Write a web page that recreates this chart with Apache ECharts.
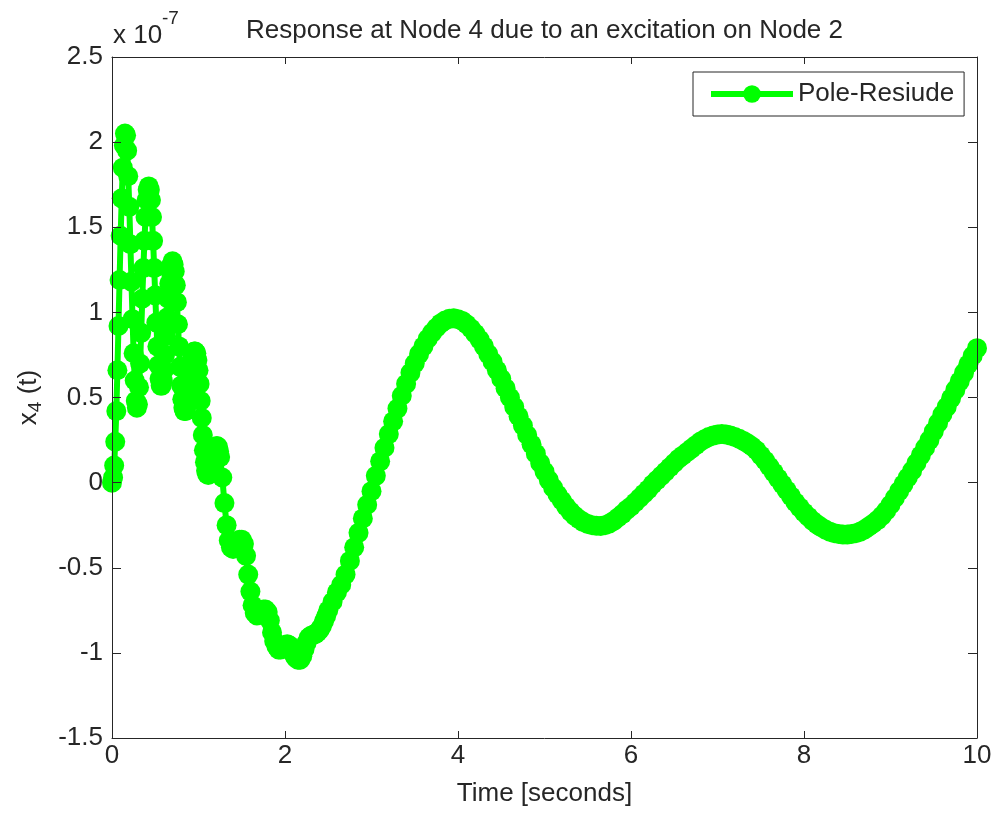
<!DOCTYPE html>
<html>
<head>
<meta charset="utf-8">
<script src="https://cdn.jsdelivr.net/npm/echarts@6/dist/echarts.min.js"></script>
<style>
html,body{margin:0;padding:0;background:#fff;}
#c{width:996px;height:813px;}
</style>
</head>
<body>
<div id="c"></div>
<script>
// ---- data (time in seconds, response in units of 1e-7) ----
const tA = [0,0.0125,0.025,0.0375,0.05,0.0625,0.075,0.0875,0.1,0.1125,0.125,0.1375,0.15,0.1625,0.175,0.1875,0.2,0.2125,0.225,0.2375,0.25,0.2625,0.275,0.2875,0.3,0.3125,0.325,0.3375,0.35,0.3625,0.375,0.3875,0.4,0.4125,0.425,0.4375,0.45,0.4625,0.475,0.4875,0.5,0.5125,0.525,0.5375,0.55,0.5625,0.575,0.5875,0.6,0.6125,0.625,0.6375,0.65,0.6625,0.675,0.6875,0.7,0.7125,0.725,0.7375,0.75,0.7625,0.775,0.7875,0.8,0.8125,0.825,0.8375,0.85,0.8625,0.875,0.8875,0.9,0.9125,0.925,0.9375,0.95,0.9625,0.975,0.9875,1,1.0125,1.025,1.0375,1.05,1.0625,1.075,1.0875,1.1,1.1125,1.125,1.1375,1.15,1.1625,1.175,1.1875,1.2,1.2125,1.225,1.2375,1.25];
const xA = [0.00,0.03,0.10,0.24,0.42,0.66,0.92,1.19,1.45,1.67,1.85,1.98,2.05,2.04,1.95,1.80,1.62,1.40,1.18,0.96,0.76,0.60,0.48,0.44,0.46,0.56,0.70,0.88,1.08,1.26,1.42,1.56,1.66,1.72,1.74,1.72,1.66,1.56,1.42,1.26,1.10,0.94,0.80,0.69,0.61,0.57,0.57,0.60,0.66,0.75,0.86,0.97,1.08,1.17,1.24,1.28,1.30,1.28,1.24,1.16,1.06,0.93,0.80,0.68,0.57,0.49,0.44,0.42,0.42,0.45,0.49,0.55,0.62,0.68,0.73,0.76,0.77,0.77,0.76,0.72,0.66,0.58,0.48,0.38,0.28,0.19,0.12,0.07,0.05,0.045,0.05,0.08,0.11,0.15,0.18,0.20,0.21,0.215,0.21,0.185,0.15];

const tB = [1.275,1.3,1.325,1.35,1.375,1.4,1.425,1.45,1.475,1.5,1.525,1.55,1.575,1.6,1.625,1.65,1.675,1.7,1.725,1.75,1.775,1.8,1.825,1.85,1.875,1.9,1.925,1.95,1.975,2,2.025,2.05,2.075,2.1,2.125,2.15,2.175,2.2,2.225,2.25,2.275,2.3,2.325,2.35,2.375,2.4,2.425,2.45,2.475,2.5];
const xB = [0.03,-0.12,-0.25,-0.34,-0.38,-0.39,-0.375,-0.35,-0.335,-0.335,-0.36,-0.43,-0.54,-0.64,-0.72,-0.765,-0.78,-0.775,-0.76,-0.745,-0.745,-0.76,-0.81,-0.88,-0.93,-0.96,-0.98,-0.98,-0.97,-0.955,-0.95,-0.955,-0.98,-1.01,-1.03,-1.04,-1.04,-1.02,-0.98,-0.94,-0.91,-0.90,-0.895,-0.89,-0.88,-0.865,-0.845,-0.815,-0.785,-0.75];

const tC = [2.55,2.6,2.65,2.7,2.75,2.8,2.85,2.9,2.95,3,
3.05,3.1,3.15,3.2,3.25,3.3,3.35,3.4,3.45,3.5,
3.55,3.6,3.65,3.7,3.75,3.8,3.85,3.9,3.95,4,
4.05,4.1,4.15,4.2,4.25,4.3,4.35,4.4,4.45,4.5,
4.55,4.6,4.65,4.7,4.75,4.8,4.85,4.9,4.95,5,
5.05,5.1,5.15,5.2,5.25,5.3,5.35,5.4,5.45,5.5,
5.55,5.6,5.65,5.7,5.75,5.8,5.85,5.9,5.95,6,
6.05,6.1,6.15,6.2,6.25,6.3,6.35,6.4,6.45,6.5,
6.55,6.6,6.65,6.7,6.75,6.8,6.85,6.9,6.95,7,
7.05,7.1,7.15,7.2,7.25,7.3,7.35,7.4,7.45,7.5,
7.55,7.6,7.65,7.7,7.75,7.8,7.85,7.9,7.95,8,
8.05,8.1,8.15,8.2,8.25,8.3,8.35,8.4,8.45,8.5,
8.55,8.6,8.65,8.7,8.75,8.8,8.85,8.9,8.95,9,
9.05,9.1,9.15,9.2,9.25,9.3,9.35,9.4,9.45,9.5,
9.55,9.6,9.65,9.7,9.75,9.8,9.85,9.9,9.95,10];
const xC = [-0.70,-0.645,-0.60,-0.54,-0.46,-0.38,-0.295,-0.21,-0.13,-0.05,
0.04,0.125,0.205,0.285,0.36,0.435,0.51,0.58,0.645,0.70,
0.755,0.80,0.845,0.88,0.91,0.935,0.952,0.962,0.965,0.96,
0.95,0.93,0.905,0.875,0.84,0.80,0.755,0.71,0.66,0.61,
0.555,0.50,0.445,0.39,0.335,0.28,0.225,0.17,0.115,0.065,
0.015,-0.03,-0.07,-0.105,-0.14,-0.17,-0.195,-0.215,-0.232,-0.243,
-0.25,-0.254,-0.255,-0.25,-0.24,-0.225,-0.205,-0.185,-0.16,-0.14,
-0.115,-0.09,-0.065,-0.04,-0.01,0.015,0.04,0.065,0.09,0.115,
0.14,0.16,0.18,0.20,0.22,0.24,0.255,0.268,0.277,0.283,
0.285,0.283,0.277,0.268,0.258,0.245,0.23,0.212,0.19,0.16,
0.13,0.095,0.06,0.025,-0.01,-0.045,-0.08,-0.115,-0.145,-0.175,
-0.20,-0.225,-0.245,-0.262,-0.277,-0.288,-0.297,-0.302,-0.305,-0.305,
-0.302,-0.297,-0.288,-0.275,-0.258,-0.24,-0.22,-0.195,-0.165,-0.13,
-0.09,-0.05,-0.01,0.03,0.07,0.115,0.16,0.205,0.25,0.30,
0.35,0.40,0.445,0.495,0.545,0.595,0.645,0.695,0.745,0.79];

const seriesName = 'Pole-Resiude';
const titleText = 'Response at Node 4 due to an excitation on Node 2';
const xTicks = [0, 2, 4, 6, 8, 10];
const yTicks = [-1.5, -1, -0.5, 0, 0.5, 1, 1.5, 2, 2.5];

// ---- build ----
const times = tA.concat(tB, tC);
const x4 = xA.concat(xB, xC);
const data = times.map((t, i) => [t, x4[i]]);

const FONT = '"Liberation Sans", Arial, Helvetica, sans-serif';
const FS = 26;
const TXT = '#262626';
const AX = '#262626';
const GREEN = '#00ff00';

const chart = echarts.init(document.getElementById('c'), null, {renderer: 'canvas'});

function xAx(pos, show) {
  return {
    type: 'value', position: pos, min: xTicks[0], max: xTicks[xTicks.length - 1], interval: 2, z: 10,
    axisLine: {show: true, onZero: false, lineStyle: {color: AX, width: 1}},
    axisTick: {show: true, inside: true, length: 7, lineStyle: {color: AX, width: 1}},
    axisLabel: {show: show, color: TXT, fontSize: FS, fontFamily: FONT, margin: 5},
    splitLine: {show: false}
  };
}
function yAx(pos, show) {
  return {
    type: 'value', position: pos, min: yTicks[0], max: yTicks[yTicks.length - 1], interval: 0.5, z: 10,
    axisLine: {show: true, onZero: false, lineStyle: {color: AX, width: 1}},
    axisTick: {show: true, inside: true, length: 9, lineStyle: {color: AX, width: 1}},
    axisLabel: {show: show, color: TXT, fontSize: FS, fontFamily: FONT, margin: 9},
    splitLine: {show: false}
  };
}

const xb = xAx('bottom', true);
xb.name = 'Time [seconds]';
xb.nameLocation = 'middle';
xb.nameGap = 43;
xb.nameTextStyle = {color: TXT, fontSize: FS, fontFamily: FONT};

const yl = yAx('left', true);
yl.name = '{v|x}{s|4}{v| (t)}';
yl.nameLocation = 'middle';
yl.nameGap = 67;
yl.nameTextStyle = {
  color: TXT, fontSize: FS, fontFamily: FONT,
  rich: {
    v: {color: TXT, fontSize: FS, fontFamily: FONT},
    s: {color: TXT, fontSize: 19, fontFamily: FONT, verticalAlign: 'bottom', padding: [14, 0, 0, 0]}
  }
};

const option = {
  animation: false,
  backgroundColor: '#ffffff',
  grid: {left: 112, right: 19, top: 57, bottom: 75, containLabel: false},
  xAxis: [xb, xAx('top', false)],
  yAxis: [yl, yAx('right', false)],
  legend: {
    data: [seriesName],
    left: 693, top: 72,
    orient: 'horizontal',
    itemWidth: 82, itemHeight: 22,
    padding: [9, 10, 9, 15],
    borderColor: AX, borderWidth: 1,
    backgroundColor: '#ffffff',
    lineStyle: {width: 6, color: GREEN},
    textStyle: {color: TXT, fontSize: FS, fontFamily: FONT},
    z: 20
  },
  graphic: [
    {type: 'text', z: 20, style: {x: 544.5, y: 31, text: titleText, font: FS + 'px ' + FONT, fill: TXT,
      align: 'center', verticalAlign: 'middle', textAlign: 'center', textVerticalAlign: 'middle'}},
    {type: 'text', z: 20, style: {x: 113, y: 36, text: 'x 10', font: FS + 'px ' + FONT, fill: TXT,
      align: 'left', verticalAlign: 'middle', textAlign: 'left', textVerticalAlign: 'middle'}},
    {type: 'text', z: 20, style: {x: 162, y: 19, text: '-7', font: '19px ' + FONT, fill: TXT,
      align: 'left', verticalAlign: 'middle', textAlign: 'left', textVerticalAlign: 'middle'}}
  ],
  series: [{
    name: seriesName,
    type: 'line',
    xAxisIndex: 0, yAxisIndex: 0,
    data: data,
    symbol: 'circle',
    symbolSize: 20,
    showSymbol: true,
    showAllSymbol: true,
    clip: false,
    lineStyle: {color: GREEN, width: 6},
    itemStyle: {color: GREEN, borderColor: GREEN, borderWidth: 0},
    emphasis: {disabled: true},
    z: 2
  }]
};
chart.setOption(option);
</script>
</body>
</html>
